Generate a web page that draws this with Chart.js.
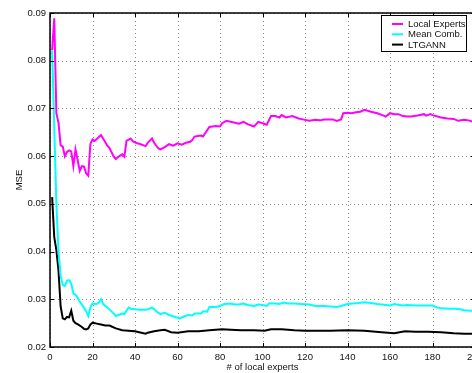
<!DOCTYPE html>
<html>
<head>
<meta charset="utf-8">
<title>MSE vs number of local experts</title>
<script src="https://cdn.jsdelivr.net/npm/chart.js@4/dist/chart.umd.min.js"></script>
<style>
  html, body { margin: 0; padding: 0; background: #fff; overflow: hidden; }
  #wrap { width: 472px; height: 373px; overflow: hidden; }
  canvas { display: block; }
</style>
</head>
<body>
<div id="wrap"><canvas id="c" width="480" height="373"></canvas></div>
<script>
// Series labels and colours
const seriesNames = ['Local Experts', 'Mean Comb.', 'LTGANN'];
const seriesColors = ['#ff00ff', '#00ffff', '#000000'];

// Local Experts
const localX = [1,2,3,4,5,6,7,8,9,10,11,12,13,14,15,16,17,18,19,20,21,23,24,25,27,28,30,31,32,34,35,36,38,39,41,42,45,46,48,49,51,52,54,56,58,60,62,64,66,67,68,71,72,75,78,80,81,83,86,88,89,91,93,96,98,100,102,104,106,108,109,111,114,117,120,122,125,127,129,133,135,137,138,140,142,144,146,148,151,154,157,158,160,162,164,166,168,170,173,176,177,179,180,184,187,190,192,195,197,199,200];
const localY = [0.0822,0.0889,0.0690,0.0670,0.0623,0.0620,0.0600,0.0609,0.0612,0.0610,0.0579,0.0614,0.0592,0.0569,0.0579,0.0578,0.0564,0.0559,0.0625,0.0635,0.0632,0.0640,0.0644,0.0637,0.0622,0.0617,0.0599,0.0594,0.0598,0.0604,0.0599,0.0632,0.0637,0.0631,0.0627,0.0626,0.0621,0.0628,0.0637,0.0628,0.0616,0.0614,0.0619,0.0625,0.0622,0.0627,0.0624,0.0628,0.0630,0.0634,0.0641,0.0643,0.0641,0.0661,0.0663,0.0662,0.0669,0.0674,0.0671,0.0669,0.0668,0.0672,0.0667,0.0662,0.0672,0.0669,0.0666,0.0684,0.0684,0.0681,0.0686,0.0681,0.0684,0.0679,0.0676,0.0674,0.0676,0.0675,0.0677,0.0677,0.0674,0.0677,0.0690,0.0691,0.0690,0.0692,0.0693,0.0697,0.0693,0.0690,0.0685,0.0683,0.0690,0.0688,0.0688,0.0684,0.0683,0.0683,0.0685,0.0688,0.0685,0.0688,0.0686,0.0681,0.0679,0.0678,0.0674,0.0676,0.0675,0.0672,0.0672];

// Mean Comb.
const meanX = [1,2,3,4,5,6,7,8,9,10,11,12,13,14,15,16,17,18,19,20,22,23,24,25,27,30,31,34,35,37,38,40,42,45,46,48,50,52,54,56,59,61,63,65,67,68,71,72,74,75,78,80,82,85,87,89,91,93,96,98,100,102,103,106,108,110,112,115,118,122,125,129,135,137,140,145,148,151,154,156,160,162,166,168,172,176,180,182,184,188,191,193,195,198,200];
const meanY = [0.0821,0.0660,0.0500,0.0400,0.0350,0.0330,0.0328,0.0339,0.0340,0.0333,0.0312,0.0310,0.0303,0.0295,0.0289,0.0282,0.0275,0.0265,0.0283,0.0291,0.0290,0.0293,0.0300,0.0290,0.0283,0.0270,0.0265,0.0270,0.0269,0.0283,0.0280,0.0279,0.0278,0.0278,0.0279,0.0283,0.0275,0.0269,0.0272,0.0267,0.0263,0.0260,0.0264,0.0267,0.0266,0.0270,0.0270,0.0275,0.0274,0.0284,0.0284,0.0286,0.0290,0.0291,0.0289,0.0289,0.0291,0.0288,0.0286,0.0289,0.0288,0.0286,0.0291,0.0291,0.0290,0.0293,0.0291,0.0291,0.0290,0.0289,0.0286,0.0286,0.0284,0.0286,0.0290,0.0292,0.0294,0.0292,0.0290,0.0289,0.0287,0.0290,0.0287,0.0288,0.0287,0.0287,0.0287,0.0283,0.0281,0.0280,0.0280,0.0279,0.0277,0.0276,0.0276];

// LTGANN
const ltgannX = [1,2,3,4,5,6,7,8,9,10,11,12,13,15,16,17,18,19,20,22,24,26,28,29,31,34,37,40,42,45,46,49,52,54,57,60,65,70,75,81,85,90,96,101,104,109,115,120,125,132,140,148,156,162,167,172,178,184,190,195,200];
const ltgannY = [0.0514,0.0430,0.0403,0.0360,0.0285,0.0260,0.0258,0.0263,0.0262,0.0276,0.0255,0.0250,0.0248,0.0242,0.0238,0.0237,0.0239,0.0247,0.0251,0.0249,0.0247,0.0245,0.0245,0.0243,0.0239,0.0235,0.0234,0.0233,0.0231,0.0228,0.0230,0.0233,0.0235,0.0236,0.0231,0.0230,0.0233,0.0233,0.0235,0.0237,0.0236,0.0235,0.0235,0.0234,0.0237,0.0237,0.0235,0.0234,0.0234,0.0234,0.0235,0.0234,0.0231,0.0229,0.0233,0.0232,0.0232,0.0231,0.0229,0.0228,0.0228];

// Axis ticks and titles
const xTickValues = [0,20,40,60,80,100,120,140,160,180,200];
const yTickValues = [0.02,0.03,0.04,0.05,0.06,0.07,0.08,0.09];
const yTickLabels = ['0.02','0.03','0.04','0.05','0.06','0.07','0.08','0.09'];
const xTitle = '# of local experts';
const yTitle = 'MSE';

const FONT = '"Liberation Sans", Arial, Helvetica, sans-serif';

function pairs(xs, ys) {
  return xs.map((x, i) => ({ x: x, y: ys[i] }));
}

const seriesData = [pairs(localX, localY), pairs(meanX, meanY), pairs(ltgannX, ltgannY)];

// Dotted grid behind the curves
const gridPlugin = {
  id: 'dottedGrid',
  beforeDatasetsDraw(chart) {
    const { ctx, chartArea: a, scales: { x, y } } = chart;
    ctx.save();
    ctx.strokeStyle = '#8a8a8a';
    ctx.lineWidth = 1;
    ctx.setLineDash([1, 3]);
    xTickValues.forEach(v => {
      const px = Math.round(x.getPixelForValue(v)) + 0.5;
      ctx.beginPath(); ctx.moveTo(px, a.top); ctx.lineTo(px, a.bottom); ctx.stroke();
    });
    yTickValues.forEach(v => {
      const py = Math.round(y.getPixelForValue(v)) + 0.5;
      ctx.beginPath(); ctx.moveTo(a.left, py); ctx.lineTo(a.right, py); ctx.stroke();
    });
    ctx.restore();
  }
};

// Axes box, inward ticks, tick labels, titles and legend
const framePlugin = {
  id: 'frame',
  afterDatasetsDraw(chart) {
    const { ctx, chartArea: a, scales: { x, y } } = chart;
    ctx.save();
    ctx.strokeStyle = '#000';
    ctx.lineWidth = 1.5;
    ctx.setLineDash([]);
    ctx.strokeRect(a.left, a.top, a.right - a.left, a.bottom - a.top);

    const tl = 4;
    ctx.lineWidth = 1;
    xTickValues.forEach(v => {
      const px = Math.round(x.getPixelForValue(v)) + 0.5;
      ctx.beginPath();
      ctx.moveTo(px, a.bottom); ctx.lineTo(px, a.bottom - tl);
      ctx.moveTo(px, a.top); ctx.lineTo(px, a.top + tl);
      ctx.stroke();
    });
    yTickValues.forEach(v => {
      const py = Math.round(y.getPixelForValue(v)) + 0.5;
      ctx.beginPath();
      ctx.moveTo(a.left, py); ctx.lineTo(a.left + tl, py);
      ctx.moveTo(a.right, py); ctx.lineTo(a.right - tl, py);
      ctx.stroke();
    });

    ctx.fillStyle = '#111';
    ctx.font = '9.5px ' + FONT;
    ctx.textAlign = 'center';
    ctx.textBaseline = 'middle';
    xTickValues.forEach(v => {
      ctx.fillText(String(v), x.getPixelForValue(v), a.bottom + 10);
    });
    ctx.textAlign = 'right';
    yTickValues.forEach((v, i) => {
      ctx.fillText(yTickLabels[i], a.left - 4, y.getPixelForValue(v));
    });

    ctx.textAlign = 'center';
    ctx.fillText(xTitle, (a.left + a.right) / 2, a.bottom + 20);
    ctx.save();
    ctx.translate(19, (a.top + a.bottom) / 2);
    ctx.rotate(-Math.PI / 2);
    ctx.fillText(yTitle, 0, 0);
    ctx.restore();

    // legend
    const lx = 381.5, ly = 15.5, lw = 85, lh = 36;
    ctx.fillStyle = '#fff';
    ctx.fillRect(lx, ly, lw, lh);
    ctx.strokeStyle = '#000';
    ctx.lineWidth = 1;
    ctx.strokeRect(lx, ly, lw, lh);
    ctx.textAlign = 'left';
    ctx.font = '9.5px ' + FONT;
    chart.data.datasets.forEach((ds, i) => {
      const rowY = 24 + i * 10.3;
      ctx.strokeStyle = ds.borderColor;
      ctx.lineWidth = 2;
      ctx.beginPath(); ctx.moveTo(392, rowY); ctx.lineTo(403, rowY); ctx.stroke();
      ctx.fillStyle = '#111';
      ctx.fillText(ds.label, 408, rowY + 0.5);
    });
    ctx.restore();
  }
};

new Chart(document.getElementById('c'), {
  type: 'line',
  data: {
    datasets: seriesNames.map((name, i) => ({
      label: name,
      data: seriesData[i],
      borderColor: seriesColors[i],
      backgroundColor: seriesColors[i],
      borderWidth: 2,
      pointRadius: 0,
      tension: 0,
      fill: false
    }))
  },
  options: {
    responsive: false,
    animation: false,
    devicePixelRatio: 1,
    layout: { padding: { left: 50, top: 13, right: 5, bottom: 26 } },
    plugins: { legend: { display: false }, tooltip: { enabled: false } },
    scales: {
      x: { type: 'linear', min: 0, max: 200, display: false },
      y: { type: 'linear', min: 0.02, max: 0.09, display: false }
    }
  },
  plugins: [gridPlugin, framePlugin]
});
</script>
</body>
</html>
